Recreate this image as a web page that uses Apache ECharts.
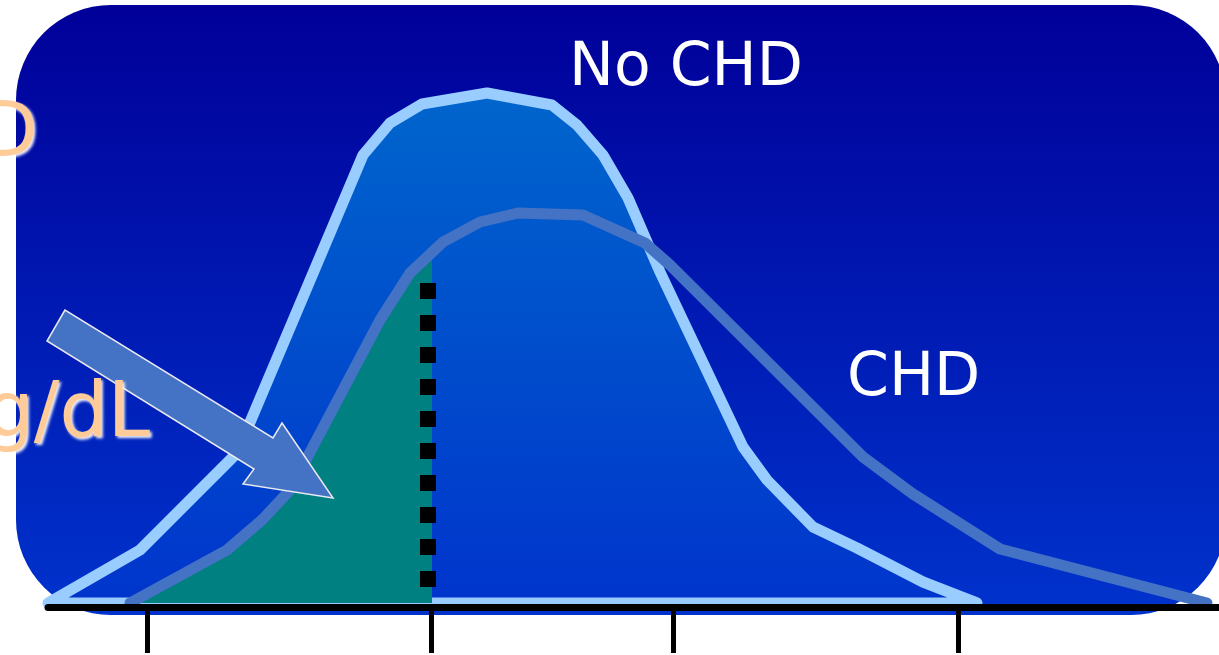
<!DOCTYPE html>
<html>
<head>
<meta charset="utf-8">
<script src="https://cdn.jsdelivr.net/npm/echarts@6/dist/echarts.min.js"></script>
<style>
html,body{margin:0;padding:0;background:#ffffff;}
#chart{width:1219px;height:655px;}
</style>
</head>
<body>
<div id="chart"></div>
<script>
// Distribution of "No CHD" group (x: cholesterol scale units, y: relative frequency)
const noChdX = [0, 9.2, 18.9, 31.5, 34.2, 37.4, 43.9, 50.4, 52.9, 55.5, 58.0, 61.2, 69.5, 71.9, 76.5, 80.9, 87.5, 92.9];
const noChdY = [0, 5.3, 15.0, 44.8, 48.0, 49.9, 51.0, 49.8, 47.8, 44.8, 40.5, 33.1, 15.6, 12.3, 7.6, 5.5, 2.1, 0];
// Distribution of "CHD" group
const chdX = [8.2, 17.9, 21.4, 24.2, 33.2, 36.2, 39.5, 43.2, 47.0, 53.5, 59.7, 62.2, 81.5, 86.5, 95.2, 115.9];
const chdY = [0, 5.3, 8.3, 11.3, 28.3, 33.0, 36.1, 38.1, 39.0, 38.8, 36.0, 33.8, 14.6, 10.9, 5.4, 0];
// Tick positions on the x axis (no labels shown)
const tickValues = [9.9, 38.3, 62.5, 91.0];
// Cut-off: shaded CHD area ends here; dotted marker line position and extent
const shadeCutoff = 38.4;
const dottedX = 38.0;
const dottedRange = [1.6, 32.0];
// Labels
const labelNoChd = 'No CHD';
const labelChd = 'CHD';
const sideLabelTop = 'CHD';
const sideLabelUnit = 'mg/dL';

const chart = echarts.init(document.getElementById('chart'), null, {renderer: 'canvas'});

const noChdData = noChdX.map((x, i) => [x, noChdY[i]]);
const chdData = chdX.map((x, i) => [x, chdY[i]]);

function shadedPoints(api) {
  const pts = [];
  for (let i = 0; i < chdX.length; i++) {
    if (chdX[i] <= shadeCutoff) {
      pts.push(api.coord([chdX[i], chdY[i]]));
    } else {
      const x0 = chdX[i - 1], y0 = chdY[i - 1], x1 = chdX[i], y1 = chdY[i];
      const t = (shadeCutoff - x0) / (x1 - x0);
      pts.push(api.coord([shadeCutoff, y0 + t * (y1 - y0)]));
      break;
    }
  }
  pts.push(api.coord([shadeCutoff, 0]));
  return pts;
}

const glow = {
  textShadowColor: 'rgba(255,255,255,0.95)', textShadowBlur: 3, textShadowOffsetX: 2, textShadowOffsetY: 2,
  shadowColor: 'rgba(255,255,255,0.95)', shadowBlur: 3, shadowOffsetX: 2, shadowOffsetY: 2
};

const option = {
  animation: false,
  backgroundColor: '#ffffff',
  grid: {left: 48, right: 0, top: 3, bottom: 52},
  xAxis: {
    type: 'value', min: 0, max: 117.1, offset: 4, z: 50,
    axisLine: {show: true, onZero: false, lineStyle: {color: '#000000', width: 7}},
    axisTick: {show: true, customValues: tickValues, length: 46, lineStyle: {color: '#000000', width: 5}},
    axisLabel: {show: false},
    splitLine: {show: false}
  },
  yAxis: {type: 'value', min: 0, max: 60, show: false, splitLine: {show: false}},
  graphic: [
    {
      type: 'rect', z: -100, silent: true,
      shape: {x: 16, y: 5, width: 1210, height: 610, r: 95},
      style: {fill: new echarts.graphic.LinearGradient(0, 0, 0, 1, [
        {offset: 0, color: '#000099'}, {offset: 1, color: '#0033cc'}])}
    },
    {
      type: 'polygon', z: 100, silent: true,
      shape: {points: [[65, 310], [47, 341], [254, 469], [243, 484], [333, 498], [282, 423], [273, 438]]},
      style: {fill: '#4472c4', stroke: '#e8e8f0', lineWidth: 1.5, lineJoin: 'miter'}
    },
    {
      type: 'text', z: 100, silent: true,
      style: {text: labelNoChd, x: 569, y: 69, fill: '#ffffff', font: '60px "DejaVu Sans"', align: 'left', verticalAlign: 'middle'}
    },
    {
      type: 'text', z: 100, silent: true,
      style: {text: labelChd, x: 847, y: 379, fill: '#ffffff', font: '60px "DejaVu Sans"', align: 'left', verticalAlign: 'middle'}
    },
    {
      type: 'text', z: 100, silent: true,
      style: Object.assign({text: sideLabelTop, x: 38, y: 136, fill: '#ffcc99', font: '76px "DejaVu Sans"', align: 'right', verticalAlign: 'middle'}, glow)
    },
    {
      type: 'text', z: 100, silent: true,
      style: Object.assign({text: sideLabelUnit, x: 150, y: 416, fill: '#ffcc99', font: '76px "DejaVu Sans"', align: 'right', verticalAlign: 'middle'}, glow)
    }
  ],
  series: [
    {
      name: 'No CHD', type: 'custom', z: 2, clip: false,
      data: noChdData,
      encode: {x: 0, y: 1},
      renderItem: function (params, api) {
        if (params.dataIndex !== 0) return null;
        const pts = noChdData.map(d => api.coord(d));
        return {
          type: 'polygon',
          shape: {points: pts},
          style: {
            fill: new echarts.graphic.LinearGradient(0, 0, 0, 1, [
              {offset: 0, color: '#0066cc'}, {offset: 1, color: '#0034cc'}]),
            stroke: '#99ccff', lineWidth: 11, lineJoin: 'round'
          }
        };
      }
    },
    {
      name: 'CHD shaded', type: 'custom', z: 3, clip: false,
      data: chdData,
      encode: {x: 0, y: 1},
      renderItem: function (params, api) {
        if (params.dataIndex !== 0) return null;
        return {
          type: 'polygon',
          shape: {points: shadedPoints(api)},
          style: {fill: '#008080', stroke: null}
        };
      }
    },
    {
      name: 'CHD', type: 'line', z: 4, clip: false,
      data: chdData, symbol: 'none', smooth: false,
      lineStyle: {color: '#4472c4', width: 11, cap: 'round', join: 'round'}
    },
    {
      name: 'Cut-off', type: 'line', z: 5, clip: false,
      data: [[dottedX, dottedRange[0]], [dottedX, dottedRange[1]]], symbol: 'none',
      lineStyle: {color: '#000000', width: 16, type: [16, 16], cap: 'butt'}
    }
  ]
};
chart.setOption(option);
</script>
</body>
</html>
